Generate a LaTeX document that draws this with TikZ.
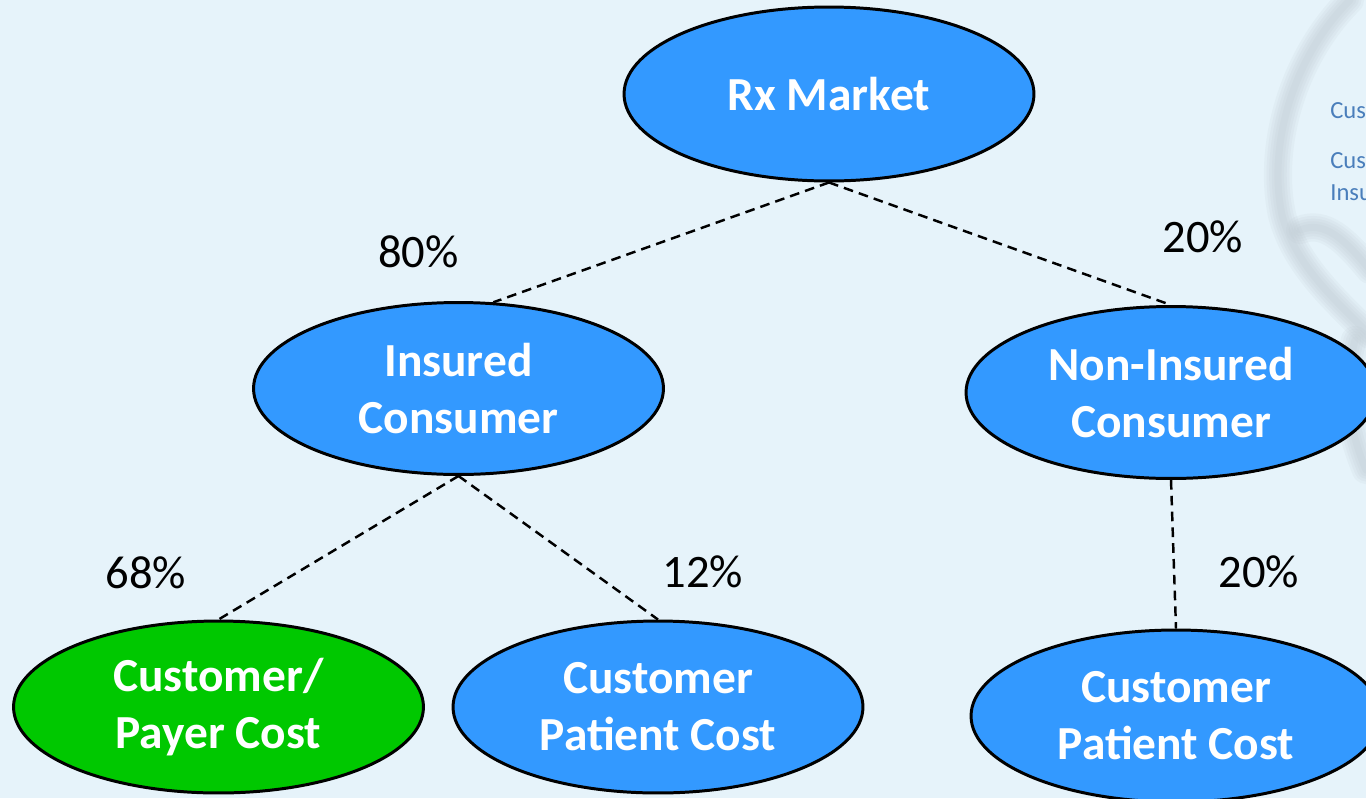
\documentclass[tikz,border=0pt]{standalone}
\usepackage{fontspec}
\setmainfont{Carlito}
\usetikzlibrary{shapes.geometric}
\definecolor{paper}{HTML}{E6F3FA}
\definecolor{node}{HTML}{3399FF}
\definecolor{payer}{HTML}{00C800}
\definecolor{ghost}{HTML}{B9C3CB}
\definecolor{side}{HTML}{4A7EBB}
\tikzset{
  oval/.style={
    ellipse, draw=black, line width=1.7pt, fill=node, text=white,
    inner sep=0pt, align=center, minimum width=8.2cm, minimum height=3.44cm,
    font=\fontsize{27}{32.5}\selectfont\bfseries,
  },
  ovalg/.style={oval, fill=payer},
  link/.style={draw=black, line width=1.4pt, dash pattern=on 5.5pt off 3.5pt},
  pct/.style={font=\fontsize{26.5}{30}\selectfont, text=black, inner sep=0pt},
  sidetxt/.style={font=\fontsize{14}{18}\selectfont, text=side,
                  anchor=base west, inner sep=0pt},
  haze/.style={ghost, line cap=round, opacity=0.12},
}

\begin{document}
\begin{tikzpicture}[x=0.02cm, y=-0.02cm]

  \useasboundingbox (0,0) rectangle (1366,798);
  \clip (0,0) rectangle (1366,798);
  \fill[paper] (0,0) rectangle (1366,798);

  % faded picture behind the right edge, soft strokes
  \foreach \w in {4,7,10,13,16} {
    \draw[haze, line width=\w pt]
      (1350,0) .. controls (1290,60) and (1268,150) .. (1282,215)
      .. controls (1295,265) and (1335,300) .. (1370,335);
    \draw[haze, line width=\w pt]
      (1300,230) .. controls (1325,220) and (1345,240) .. (1370,270);
    \draw[haze, line width=\w pt]
      (1355,340) .. controls (1345,380) and (1345,420) .. (1366,470);
  }
  \node[sidetxt] (s1) at (1330,118) {Cus};
  \node[sidetxt] (s2) at (1330,168) {Cus};
  \node[sidetxt] (s3) at (1330,200) {Insu};

  % the tree
  \node[oval, minimum height=3.48cm] (rx) at (829,94) {Rx Market};
  \node[oval] (ins) at (458.5,388.5) {Insured\\Consumer};
  \node[oval] (non) at (1171,392.5) {Non-Insured\\Consumer};
  \node[ovalg] (pay) at (218.5,707) {Customer/\\Payer Cost};
  \node[oval] (pat) at (658,707) {Customer\\Patient Cost};
  \node[oval] (patn) at (1176,716) {Customer\\Patient Cost};

  \draw[link] (rx.south) -- (ins.68);
  \draw[link] (rx.south) -- (non.north);
  \draw[link] (ins.south) -- (pay.north);
  \draw[link] (ins.south) -- (pat.north);
  \draw[link] (non.south) -- (patn.north);

  % shares
  \node[pct] (p80) at (418.5,251.5) {80\%};
  \node[pct] (p20) at (1203,237) {20\%};
  \node[pct] (p68) at (146,573) {68\%};
  \node[pct] (p12) at (703,572) {12\%};
  \node[pct] (p20b) at (1259,572) {20\%};

\end{tikzpicture}
\end{document}
